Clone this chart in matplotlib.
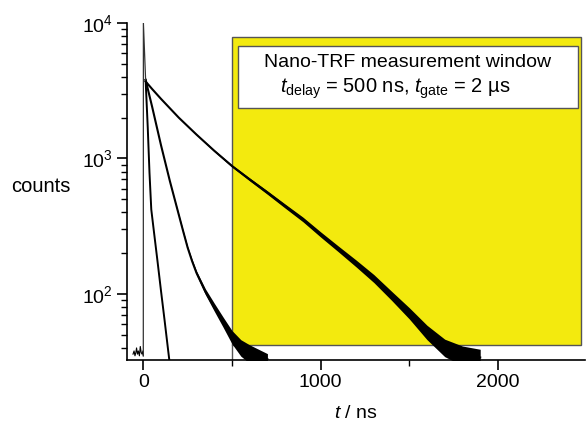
import numpy as np
import matplotlib.pyplot as plt
from matplotlib.patches import Rectangle
from matplotlib.ticker import MultipleLocator, LogLocator, FixedLocator, FixedFormatter

plt.rcParams['font.family'] = ['Liberation Sans', 'DejaVu Sans']
plt.rcParams['mathtext.fontset'] = 'custom'
plt.rcParams['mathtext.rm'] = 'Liberation Sans'
plt.rcParams['mathtext.it'] = 'Liberation Sans:italic'

# values (t in ns, counts)
t_pre = [-58, -52, -47, -42, -38, -33, -28, -22, -17, -12, -7, -2, 0]
c_pre = [36, 38, 35, 37, 40, 36, 38, 35, 41, 37, 36, 38, 35]

t_prompt = [0, 0.5, 13]
c_prompt = [35, 10000, 3800]

t_fast = [13, 25, 35, 45, 60, 80, 100, 120, 140, 150]
c_fast = [3800, 1700, 780, 420, 288, 175, 105, 64, 38.5, 30]

t_mid = [13, 50, 100, 150, 200, 225, 250, 275, 300, 350, 400, 450, 500, 550, 600, 650, 700]
c_mid = [3800, 2400, 1250, 680, 385, 290, 220, 175, 143, 104, 80, 62, 48, 40, 36, 34, 33]
f_mid = [1.0, 1.0, 1.0, 1.0, 1.01, 1.015, 1.02, 1.03, 1.035, 1.05, 1.07, 1.09, 1.12, 1.15,
         1.17, 1.15, 1.1]

t_long = [13, 50, 100, 200, 300, 400, 500, 600, 700, 800, 900, 1000,
          1100, 1200, 1300, 1400, 1500, 1600, 1700, 1800, 1900]
c_long = [3700, 3250, 2750, 2000, 1500, 1140, 880, 700, 560, 445, 355, 275,
          215, 168, 130, 97, 72, 52, 40, 35, 34]
f_long = [1.0, 1.0, 1.0, 1.0, 1.01, 1.015, 1.02, 1.025, 1.03, 1.035, 1.04, 1.045,
          1.05, 1.06, 1.07, 1.08, 1.1, 1.13, 1.16, 1.18, 1.15]

# measurement window
t_delay = 500
win_right = 2467
win_top, win_bottom = 7830, 42

fig = plt.figure(figsize=(5.86, 4.24), dpi=100)
ax = fig.add_axes([0.2167, 0.151, 0.7813, 0.795])
ax.set_yscale('log')
ax.set_xlim(-92, 2490)
ax.set_ylim(32.6, 10000)

ax.add_patch(Rectangle((t_delay, win_bottom), win_right - t_delay, win_top - win_bottom,
                       facecolor='#f3ea0e', edgecolor='#555555', linewidth=1.0, zorder=1))
ax.plot([t_delay, t_delay], [32.6, win_bottom], color='#555555', linewidth=1.0, zorder=1)

for t, c, f in [(t_mid, c_mid, f_mid), (t_long, c_long, f_long)]:
    c = np.array(c)
    f = np.array(f)
    ax.fill_between(t, c / f, c * f, color='black', linewidth=0, zorder=3)
    ax.plot(t, c, color='black', linewidth=1.5, zorder=3)

ax.plot(t_fast, c_fast, color='black', linewidth=1.4, zorder=3)
ax.plot(t_pre, c_pre, color='black', linewidth=0.8, zorder=3)
ax.plot(t_prompt, c_prompt, color='#333333', linewidth=0.9, zorder=3)

ax.add_patch(Rectangle((535, 2360), 2451 - 535, 6770 - 2360,
                       facecolor='white', edgecolor='#555555', linewidth=1.0, zorder=4))
ax.text(1493, 5120, 'Nano-TRF measurement window', ha='center', va='center',
        fontsize=14, zorder=5)
ax.text(1420, 3250, r'$t_{\mathrm{delay}}$ = 500 ns, $t_{\mathrm{gate}}$ = 2 µs',
        ha='center', va='center', fontsize=14.5, zorder=5)

for s in ['top', 'right']:
    ax.spines[s].set_visible(False)
for s in ['left', 'bottom']:
    ax.spines[s].set_linewidth(1.2)

ax.xaxis.set_major_locator(MultipleLocator(1000))
ax.xaxis.set_minor_locator(MultipleLocator(500))
ax.yaxis.set_major_locator(FixedLocator([100, 1000, 10000]))
ax.yaxis.set_major_formatter(FixedFormatter(['$10^2$', '$10^3$', '$10^4$']))
ax.yaxis.set_minor_locator(LogLocator(base=10, subs=np.arange(2, 10)))
ax.tick_params(which='major', direction='out', length=7, width=1.2, labelsize=14, pad=3)
ax.tick_params(which='minor', direction='out', length=4, width=1.0)

ax.set_xlabel('$t$ / ns', fontsize=14, labelpad=10)
ax.set_ylabel('counts', fontsize=14.5, rotation=0, ha='center', va='center')
ax.yaxis.set_label_coords(-0.188, 0.515)

fig.savefig('out.png', dpi=100)
